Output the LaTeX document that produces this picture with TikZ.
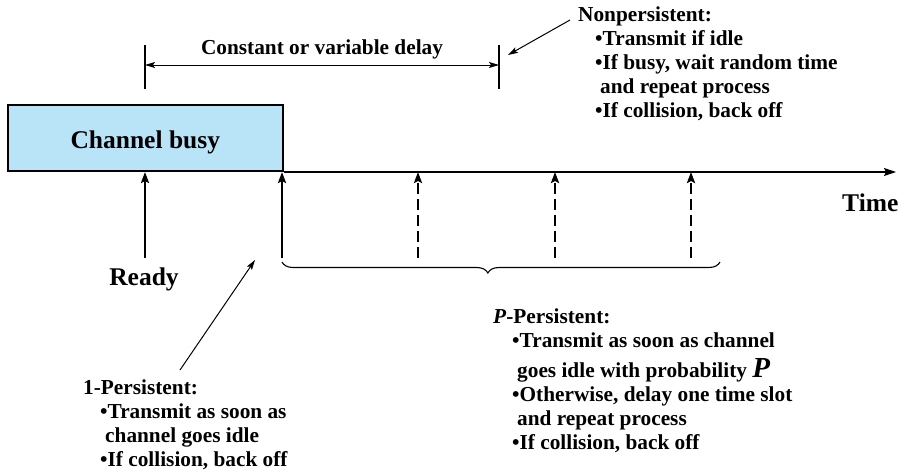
\documentclass[tikz,border=0pt]{standalone}
\usepackage{fontspec}
\setmainfont{Liberation Serif}
\usetikzlibrary{arrows.meta,decorations.pathreplacing}
\definecolor{busyblue}{RGB}{185,228,248}
\begin{document}
\begin{tikzpicture}[x=1pt,y=-1pt,
  txt/.style={font=\fontsize{21.3}{24}\selectfont\bfseries, inner sep=0pt, align=left},
  bigtxt/.style={font=\fontsize{25.5}{30}\selectfont\bfseries, inner sep=0pt},
  busybox/.style={draw, line width=1.6pt, fill=busyblue, inner sep=0pt,
    minimum width=275pt, minimum height=66pt, text height=20pt, text depth=0pt,
    font=\fontsize{25.5}{30}\selectfont\bfseries},
  axisline/.style={line width=1.2pt, -{Stealth[length=12pt,width=8pt,inset=2pt]}},
  uparrow/.style={line width=2.5pt, -{Stealth[length=11pt,width=8pt,inset=2pt]}},
  dasharrow/.style={uparrow, dash pattern=on 11.5pt off 4.5pt},
  pointer/.style={line width=1pt, -{Stealth[length=10pt,width=6pt,inset=2pt]}},
  dimline/.style={line width=1pt, {Stealth[length=10pt,width=6pt,inset=2pt]}-{Stealth[length=10pt,width=6pt,inset=2pt]}},
  tick/.style={line width=1.1pt},
  bracestyle/.style={line width=1.1pt, decorate, decoration={brace, mirror, amplitude=11pt, aspect=0.47}}
]
\useasboundingbox (0,0) rectangle (904,471);

% channel busy box and time axis
\node[busybox, anchor=south west] (busy) at (7,172) {Channel busy};
\coordinate (tend) at (896,172);
\draw[axisline] (busy.south east) -- (tend);
\node[bigtxt, anchor=base west] (time) at (842,211) {Time};

% up arrows
\coordinate (a0b) at (145,258); \coordinate (a0t) at (145,172);
\coordinate (a1b) at (282,258); \coordinate (a1t) at (282,172);
\coordinate (a2b) at (418,258); \coordinate (a2t) at (418,172);
\coordinate (a3b) at (555,258); \coordinate (a3t) at (555,172);
\coordinate (a4b) at (691,258); \coordinate (a4t) at (691,172);
\draw[uparrow] (a0b) -- (a0t);
\draw[uparrow] (a1b) -- (a1t);
\draw[dasharrow] (a2b) -- (a2t);
\draw[dasharrow] (a3b) -- (a3t);
\draw[dasharrow] (a4b) -- (a4t);
\node[bigtxt, anchor=base] (ready) at (144,285) {Ready};

% delay dimension
\coordinate (d1t) at (145,45); \coordinate (d1b) at (145,89);
\coordinate (d2t) at (499,45); \coordinate (d2b) at (499,89);
\coordinate (dl) at (145,65); \coordinate (dr) at (499,65);
\draw[tick] (d1t) -- (d1b);
\draw[tick] (d2t) -- (d2b);
\draw[dimline] (dl) -- (dr);
\node[txt, anchor=base] (delay) at (322,54) {Constant or variable delay};

% nonpersistent
\node[txt, anchor=north west] (nonp) at (578,7) {Nonpersistent:\\
\hspace*{17pt}•Transmit if idle\\
\hspace*{17pt}•If busy, wait random time\\
\hspace*{22pt}and repeat process\\
\hspace*{17pt}•If collision, back off};
\coordinate (np0) at (570,20); \coordinate (np1) at (508,55);
\draw[pointer] (np0) -- (np1);

% 1-persistent
\node[txt, anchor=north west] (onep) at (83,380) {1-Persistent:\\
\hspace*{17pt}•Transmit as soon as\\
\hspace*{22pt}channel goes idle\\
\hspace*{17pt}•If collision, back off};
\coordinate (op0) at (180,370); \coordinate (op1) at (255,260);
\draw[pointer] (op0) -- (op1);

% brace and p-persistent
\coordinate (b1) at (282,262); \coordinate (b2) at (720,262);
\draw[bracestyle] (b1) -- (b2);
\node[txt, anchor=north west] (pp) at (493,309) {\textit{P}-Persistent:\\
\hspace*{19pt}•Transmit as soon as channel\\[6pt]
\hspace*{24pt}goes idle with probability {\fontsize{29}{29}\selectfont\itshape P}\\
\hspace*{19pt}•Otherwise, delay one time slot\\
\hspace*{24pt}and repeat process\\
\hspace*{19pt}•If collision, back off};
\end{tikzpicture}
\end{document}
